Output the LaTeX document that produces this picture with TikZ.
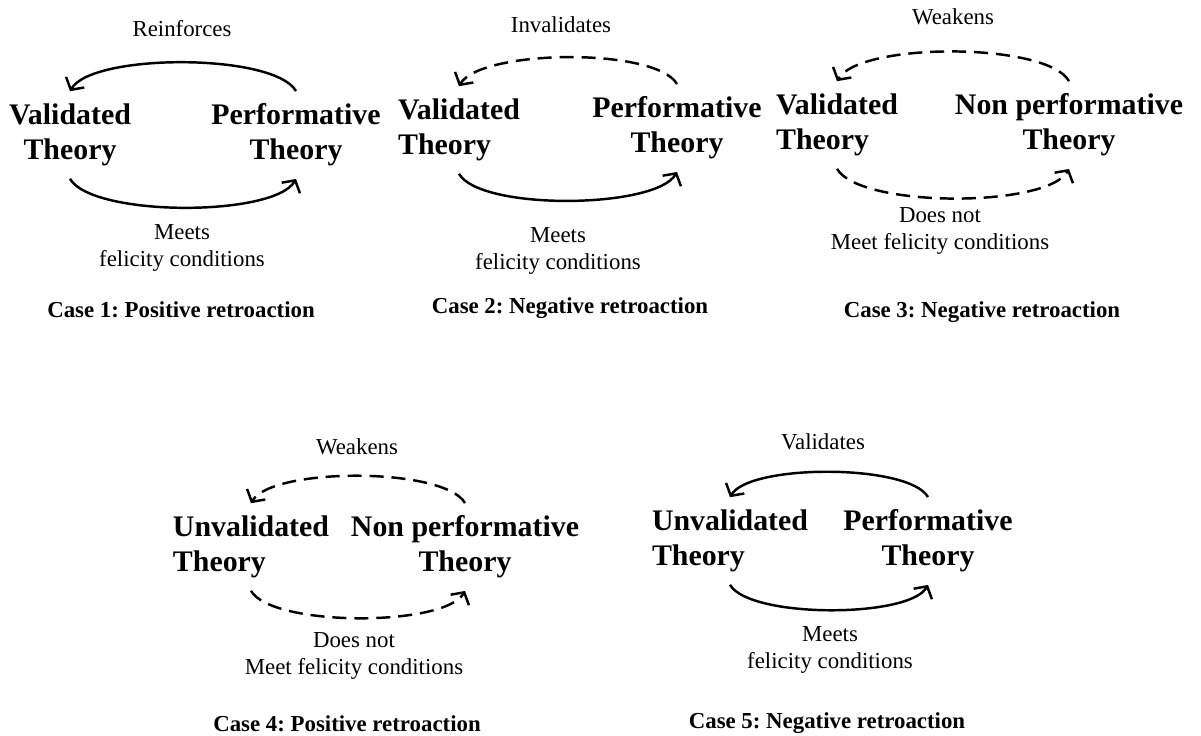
\documentclass[tikz,border=0pt]{standalone}
\usepackage{fontspec}
\setmainfont{Liberation Serif}
\usetikzlibrary{arrows.meta}
\frenchspacing

\begin{document}
\begin{tikzpicture}[x=0.02cm, y=0.02cm, >={Straight Barb[length=5pt,width=12pt]},
        theory/.style={font=\fontsize{17}{20}\selectfont\bfseries, inner xsep=2pt, inner ysep=7pt},
        lbl/.style={font=\fontsize{13}{15.5}\selectfont, align=center},
        capt/.style={font=\fontsize{13}{15.5}\selectfont\bfseries},
        arcline/.style={line width=1.4pt, ->, looseness=0.5},
        dasharc/.style={arcline, dash pattern=on 8pt off 4.5pt}]
        \useasboundingbox (0, 0) rectangle (1201, -735);
        % 情形 1
        \node[theory, align=center] (v1) at (70, -135) {Validated\\Theory};
        \node[theory, align=center] (p1) at (296, -135) {Performative\\Theory};
        \node[lbl] (t1) at (182, -29) {Reinforces};
        \node[lbl] (b1) at (182, -248) {Meets\\felicity conditions};
        \node[capt] (c1) at (181, -310) {Case 1: Positive retroaction};
        \draw[arcline] (p1.north) to[out=120, in=60] (v1.north);
        \draw[arcline] (v1.south) to[out=-60, in=-120] (p1.south);
        % 情形 2
        \node[theory, align=left] (v2) at (459, -130) {Validated\\Theory};
        \node[theory, align=center] (p2) at (677, -128) {Performative\\Theory};
        \node[lbl] (t2) at (561, -25) {Invalidates};
        \node[lbl] (b2) at (558, -251) {Meets\\felicity conditions};
        \node[capt] (c2) at (570, -308) {Case 2: Negative retroaction};
        \draw[dasharc] (p2.north) to[out=120, in=60] (v2.north);
        \draw[arcline] (v2.south) to[out=-60, in=-120] (p2.south);
        % 情形 3
        \node[theory, align=left] (v3) at (837, -125) {Validated\\Theory};
        \node[theory, align=center] (n3) at (1069, -125) {Non performative\\Theory};
        \node[lbl] (t3) at (953, -17) {Weakens};
        \node[lbl] (b3) at (940, -231) {Does not\\Meet felicity conditions};
        \node[capt] (c3) at (982, -312) {Case 3: Negative retroaction};
        \draw[dasharc] (n3.north) to[out=120, in=60] (v3.north);
        \draw[dasharc] (v3.south) to[out=-60, in=-120] (n3.south);
        % 情形 4
        \node[theory, align=left] (u4) at (251, -547) {Unvalidated\\Theory};
        \node[theory, align=center] (n4) at (465, -547) {Non performative\\Theory};
        \node[lbl] (t4) at (357, -447) {Weakens};
        \node[lbl] (b4) at (354, -656) {Does not\\Meet felicity conditions};
        \node[capt] (c4) at (347, -724) {Case 4: Positive retroaction};
        \draw[dasharc] (n4.north) to[out=120, in=60] (u4.north);
        \draw[dasharc] (u4.south) to[out=-60, in=-120] (n4.south);
        % 情形 5
        \node[theory, align=left] (u5) at (730, -541) {Unvalidated\\Theory};
        \node[theory, align=center] (p5) at (928, -541) {Performative\\Theory};
        \node[lbl] (t5) at (823, -442) {Validates};
        \node[lbl] (b5) at (830, -650) {Meets\\felicity conditions};
        \node[capt] (c5) at (827, -723) {Case 5: Negative retroaction};
        \draw[arcline] (p5.north) to[out=120, in=60] (u5.north);
        \draw[arcline] (u5.south) to[out=-60, in=-120] (p5.south);
    \end{tikzpicture}
\end{document}
